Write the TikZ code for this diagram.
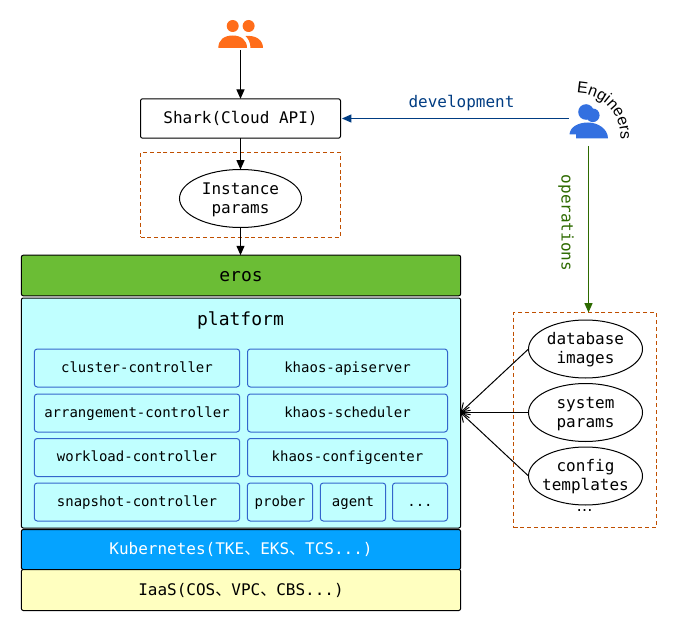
\documentclass[tikz,border=0pt]{standalone}
\usepackage{fontspec}
\setmainfont{DejaVu Sans Mono}
\newfontfamily\cjkf{Noto Sans CJK SC}
\newfontfamily\engf{Liberation Sans}
\newfontfamily\dotsf{DejaVu Sans}
\usetikzlibrary{shapes.geometric,arrows.meta,decorations.text}
\definecolor{erosc}{HTML}{6BBD35}
\definecolor{platc}{HTML}{C0FFFF}
\definecolor{kubec}{HTML}{05A3FF}
\definecolor{iaasc}{HTML}{FFFFC0}
\definecolor{innerc}{HTML}{3366CC}
\definecolor{dashc}{HTML}{C04F00}
\definecolor{orangec}{HTML}{FF6D1A}
\definecolor{bluec}{HTML}{3370E0}
\definecolor{devc}{HTML}{003C82}
\definecolor{opsc}{HTML}{2D6A00}
\newcommand{\tnk}{{\cjkf 、}}
\newcommand{\toprule}{\rule{0pt}{10.5pt}}
\tikzset{
  x=0.75pt,y=-0.75pt,
  every node/.style={inner sep=0pt,outer sep=0pt,align=center,line width=0.75pt},
  big/.style={font=\fontsize{12}{14.4}\selectfont},
  bigline/.style={big,text height=10pt,text depth=2.6pt},
  small/.style={font=\fontsize{10.5}{12}\selectfont,text height=9pt,text depth=2.6pt},
  huge/.style={font=\fontsize{13.5}{15}\selectfont},
  layer/.style={draw=black,rounded corners=1.5pt,minimum width=329.5pt},
  inner/.style={draw=innerc,fill=platc,rounded corners=2.2pt,minimum height=28.5pt,small},
  bubble/.style={draw=black,fill=white,ellipse,inner sep=-8pt,minimum width=85.5pt,minimum height=43.5pt,big},
  dashbox/.style={draw=dashc,dashed,dash pattern=on 3pt off 2.2pt,line width=0.75pt},
  conn/.style={draw=black,line width=0.75pt,-{Triangle[length=7pt,width=6pt]}},
  barb/.style={draw=black,line width=0.75pt,-{Straight Barb[length=6pt,width=8pt]}},
}
\begin{document}
\begin{tikzpicture}
\useasboundingbox (0,0) rectangle (678,631);
% dashed frames
\node[dashbox,minimum width=150pt,minimum height=63.4pt] (frameA) at (240.5,194.75) {};
\node[dashbox,minimum width=107.25pt,minimum height=161.25pt] (frameB) at (585,420) {};
% users icon (orange)
\fill[orangec] (232.7,26) circle (6);
\fill[orangec] (248.6,26) circle (6);
\fill[orangec] (218.3,48) .. controls (218.3,40) and (224,35.5) .. (232.7,35.5) .. controls (241,35.5) and (247,40) .. (247,48) -- cycle;
\fill[orangec] (250.5,48) .. controls (250.5,42) and (248,38.5) .. (245.5,36) .. controls (256,35) and (263,40) .. (263,48) -- cycle;
\coordinate (usersB) at (240.5,50);
% engineers icon (blue)
\fill[bluec] (586,112) circle (7.8);
\fill[bluec] (592.8,115.3) circle (6.8);
\fill[bluec] (569.5,134.3) .. controls (570,127) and (578,122.5) .. (588,122.5) .. controls (598,122.5) and (608,129) .. (608,138.5) -- (576,138.5) -- (576,134.3) -- cycle;
\coordinate (engW) at (569,118.5);
\coordinate (engS) at (588.5,146);
\begin{scope}[y=0.75pt]
\path[decorate,decoration={text along path,text align=center,text={|\engf\fontsize{12}{14}\selectfont|Engineers}}]
  (575,-93) arc[start angle=92,end angle=-6,radius=44];
\end{scope}
% top nodes
\node[draw=black,fill=white,rounded corners=1.5pt,minimum width=150pt,minimum height=29.5pt,bigline] (shark) at (240.5,118.5) {Shark(Cloud API)};
\node[bubble,minimum width=91.5pt] (inst) at (240.5,198.5) {\toprule Instance\\params};
% layers
\node[layer,fill=erosc,minimum height=30.5pt,huge,text height=11pt,text depth=2.6pt] (eros) at (241,275.5) {eros};
\node[layer,fill=platc,minimum height=172.5pt] (plat) at (241,413) {};
\node[huge] (platT) at (240.5,320) {platform};
\node[layer,fill=kubec,minimum height=30pt,text=white,bigline,text height=10.4pt] (kube) at (241,549.5) {Kubernetes(TKE\tnk EKS\tnk TCS...)};
\node[layer,fill=iaasc,minimum height=30.75pt,bigline,text height=10.4pt] (iaas) at (241,590) {IaaS(COS\tnk VPC\tnk CBS...)};
% inner boxes
\node[inner,minimum width=154pt] (c1) at (137,368) {cluster-controller};
\node[inner,minimum width=154pt] (c2) at (137,413) {arrangement-controller};
\node[inner,minimum width=154pt] (c3) at (137,457.5) {workload-controller};
\node[inner,minimum width=154pt] (c4) at (137,502) {snapshot-controller};
\node[inner,minimum width=150pt] (k1) at (347.5,368) {khaos-apiserver};
\node[inner,minimum width=150pt] (k2) at (347.5,413) {khaos-scheduler};
\node[inner,minimum width=150pt] (k3) at (347.5,457.5) {khaos-configcenter};
\node[inner,minimum width=49pt] (p1) at (280,502) {prober};
\node[inner,minimum width=49pt] (p2) at (353,502) {agent};
\node[inner,minimum width=41.25pt] (p3) at (420,502) {...};
% right bubbles
\node[bubble] (db) at (585.5,349) {\toprule database\\images};
\node[bubble] (sys) at (585.5,412.5) {\toprule system\\params};
\node[bubble] (cfg) at (585.5,476) {\toprule config\\templates};
\node[font=\dotsf\fontsize{12}{14}\selectfont] (more) at (584.5,511) {…};
\coordinate (hub) at (460.5,412.5);
% connectors
\draw[conn] (usersB) -- (shark.north);
\draw[conn] (shark.south) -- (inst.north);
\draw[conn] (inst.south) -- (eros.north -| inst.south);
\draw[conn,draw=devc,{-{Triangle[length=7pt,width=6pt,fill=devc]}}] (engW) -- (shark.east -| 342,0);
\draw[conn,draw=opsc,{-{Triangle[length=7pt,width=6pt,fill=opsc]}}] (engS) -- (engS |- frameB.north);
\draw[barb] (db.west) -- (hub);
\draw[barb] (sys.west) -- (hub);
\draw[barb] (cfg.west) -- (hub);
% labels
\node[big,text=devc] (dev) at (461.5,103.5) {development};
\node[big,text=opsc,rotate=-90] (ops) at (566,223) {operations};
\end{tikzpicture}
\end{document}
